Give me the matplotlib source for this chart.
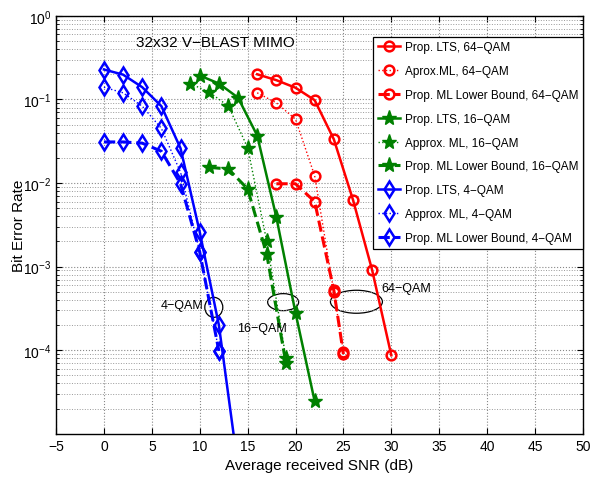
import matplotlib.pyplot as plt
import numpy as np
from matplotlib.patches import Ellipse
from matplotlib.ticker import LogLocator, NullFormatter

plt.rcParams['font.family'] = ['Liberation Sans', 'DejaVu Sans']
plt.rcParams['mathtext.default'] = 'regular'

# 64-QAM
snr_64 = [16, 18, 20, 22, 24, 26, 28, 30]
lts_64 = [0.20, 0.17, 0.138, 0.098, 0.0334, 0.0063, 9.1e-4, 8.7e-5]
snr_64_ml = [16, 18, 20, 22, 24, 25]
ml_64 = [0.12, 0.091, 0.058, 0.0122, 5.0e-4, 9.6e-5]
snr_64_lb = [18, 20, 22, 24, 25]
lb_64 = [0.0098, 0.0098, 0.006, 5.2e-4, 9.0e-5]

# 16-QAM
snr_16 = [10, 12, 14, 16, 18, 20, 22]
lts_16 = [0.193, 0.155, 0.105, 0.037, 0.0039, 2.8e-4, 2.45e-5]
snr_16_ml = [9, 11, 13, 15, 17, 19]
ml_16 = [0.155, 0.122, 0.083, 0.0266, 0.002, 8.0e-5]
snr_16_lb = [11, 13, 15, 17, 19]
lb_16 = [0.0154, 0.0147, 0.0085, 0.0014, 7.0e-5]

# 4-QAM
snr_4 = [0, 2, 4, 6, 8, 10, 12, 14]
lts_4 = [0.228, 0.198, 0.14, 0.083, 0.026, 0.0026, 2.0e-4, 4.0e-6]
snr_4_ml = [0, 2, 4, 6, 8, 10, 12]
ml_4 = [0.14, 0.12, 0.083, 0.045, 0.0134, 0.0015, 9.8e-5]
lb_4 = [0.031, 0.031, 0.030, 0.024, 0.0098, 0.0015, 9.8e-5]

red, green, blue = '#ff0000', '#008000', '#0000ff'

fig = plt.figure(figsize=(5.96, 4.81), dpi=100)
ax = fig.add_axes([0.094, 0.096, 0.884, 0.869])

mk_o = dict(marker='o', markersize=7, markerfacecolor='none', markeredgewidth=1.8)
mk_s = dict(marker='*', markersize=11, markerfacecolor=green, markeredgecolor=green)
mk_d = dict(marker='d', markersize=8.5, markerfacecolor='none', markeredgewidth=1.8)

ax.semilogy(snr_64, lts_64, '-', color=red, lw=1.8, label='Prop. LTS, 64\u2212QAM', **mk_o)
ax.semilogy(snr_64_ml, ml_64, ':', color=red, lw=1.0, label='Aprox.ML, 64\u2212QAM', **mk_o)
ax.semilogy(snr_64_lb, lb_64, '--', color=red, lw=2.2, label='Prop. ML Lower Bound, 64\u2212QAM', **mk_o)
ax.semilogy(snr_16, lts_16, '-', color=green, lw=1.8, label='Prop. LTS, 16\u2212QAM', **mk_s)
ax.semilogy(snr_16_ml, ml_16, ':', color=green, lw=1.0, label='Approx. ML, 16\u2212QAM', **mk_s)
ax.semilogy(snr_16_lb, lb_16, '--', color=green, lw=2.2, label='Prop. ML Lower Bound, 16\u2212QAM', **mk_s)
ax.semilogy(snr_4, lts_4, '-', color=blue, lw=1.8, label='Prop. LTS, 4\u2212QAM', **mk_d)
ax.semilogy(snr_4_ml, ml_4, ':', color=blue, lw=1.0, label='Approx. ML, 4\u2212QAM', **mk_d)
ax.semilogy(snr_4_ml, lb_4, '--', color=blue, lw=2.2, label='Prop. ML Lower Bound, 4\u2212QAM', **mk_d)

ax.set_xlim(-5, 50)
ax.set_ylim(1e-5, 1)
ax.set_xticks(np.arange(-5, 51, 5))
ax.set_xticklabels([str(v).replace('-', '\u2212') for v in range(-5, 51, 5)])
ax.set_yticks([1e-4, 1e-3, 1e-2, 1e-1, 1e0])
ax.set_yticklabels(['$10^{-4}$', '$10^{-3}$', '$10^{-2}$', '$10^{-1}$', '$10^{0}$'])
ax.yaxis.set_minor_locator(LogLocator(base=10, subs=np.arange(2, 10), numticks=20))
ax.yaxis.set_minor_formatter(NullFormatter())
ax.tick_params(which='both', direction='in', top=True, right=True, labelsize=10)
ax.tick_params(which='major', length=4, width=0.8)
ax.tick_params(which='minor', length=2, width=0.6)
for s in ax.spines.values():
    s.set_linewidth(1.0)

ax.grid(True, which='major', linestyle=':', color='#888888', lw=0.8)
ax.grid(True, which='minor', axis='y', linestyle=':', color='#999999', lw=0.7)

ax.set_xlabel('Average received SNR (dB)', fontsize=11)
ax.set_ylabel('Bit Error Rate', fontsize=11, labelpad=-2)

ax.text(3.4, 0.44, '32x32 V\u2212BLAST MIMO', fontsize=11)

# group annotations: ellipses drawn in axes fraction
def ell(x, y, w, h):
    cx, cy = ax.transAxes.inverted().transform(ax.transData.transform((x, y)))
    ax.add_patch(Ellipse((cx, cy), w / 527, h / 418, transform=ax.transAxes,
                         fill=False, edgecolor='black', lw=0.9))

ell(11.47, 3.26e-4, 18, 20)
ell(18.71, 3.76e-4, 31, 17)
ell(26.36, 3.8e-4, 52, 23)
ax.text(10.4, 3.5e-4, '4\u2212QAM', fontsize=9, ha='right', va='center')
ax.text(13.9, 1.83e-4, '16\u2212QAM', fontsize=9, va='center')
ax.text(29.0, 5.6e-4, '64\u2212QAM', fontsize=9, va='center')

leg = ax.legend(loc='upper right', bbox_to_anchor=(1.0, 0.95), borderaxespad=0,
                fontsize=8.5, fancybox=False, framealpha=1, edgecolor='black',
                handlelength=1.9, labelspacing=1.0, borderpad=0.4, handletextpad=0.4)
leg.get_frame().set_linewidth(0.9)

plt.savefig('out.png', dpi=100)
